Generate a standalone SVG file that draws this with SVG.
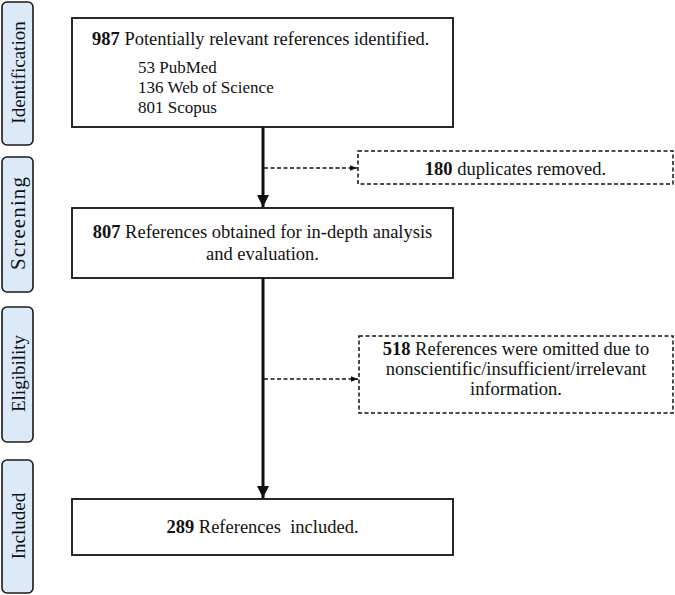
<svg xmlns="http://www.w3.org/2000/svg" width="675" height="595" viewBox="0 0 675 595">
<style>
text{font-family:"Liberation Serif","Times New Roman",serif;fill:#111}
.side rect{fill:#dce9f8;stroke:#1a1a1a;stroke-width:1.6}
.side text{font-size:19px;text-anchor:middle}
.box{fill:#fff;stroke:#111;stroke-width:1.8}
.dbox{fill:#fff;stroke:#111;stroke-width:1.5;stroke-dasharray:4 2.5}
.t{font-size:18.5px}
.s{font-size:17px}
.c{text-anchor:middle}
.b{font-weight:bold}
.main{stroke:#111;stroke-width:3;fill:none}
.dash{stroke:#111;stroke-width:1.5;stroke-dasharray:4 2.5;fill:none}
</style>
<defs>
<marker id="ah" viewBox="0 0 10 10" refX="10" refY="5" markerWidth="4" markerHeight="4" orient="auto" markerUnits="strokeWidth"><path d="M0,0 L10,5 L0,10 z" fill="#111"/></marker>
<marker id="ahs" viewBox="0 0 10 10" refX="10" refY="5" markerWidth="5" markerHeight="5" orient="auto" markerUnits="strokeWidth"><path d="M0,1 L10,5 L0,9 z" fill="#111"/></marker>
</defs>
<g id="side-identification" class="side"><rect x="2" y="2" width="31" height="143" rx="5"/><text transform="translate(25,72.5) rotate(-90)">Identification</text></g>
<g id="side-screening" class="side"><rect x="2" y="157" width="31" height="135" rx="5"/><text transform="translate(25,223.5) rotate(-90)" style="font-size:21px" textLength="93" lengthAdjust="spacing">Screening</text></g>
<g id="side-eligibility" class="side"><rect x="2" y="307" width="31" height="135" rx="5"/><text transform="translate(25,373.5) rotate(-90)">Eligibility</text></g>
<g id="side-included" class="side"><rect x="2" y="460" width="31" height="133" rx="5"/><text transform="translate(25,526) rotate(-90)">Included</text></g>
<g id="connectors">
<line class="main" x1="263" y1="127" x2="263" y2="207" marker-end="url(#ah)"/>
<line class="main" x1="263" y1="278" x2="263" y2="498" marker-end="url(#ah)"/>
<line class="dash" x1="264" y1="168" x2="357" y2="168" marker-end="url(#ahs)"/>
<line class="dash" x1="264" y1="379" x2="358" y2="379" marker-end="url(#ahs)"/>
</g>
<g id="n-identified"><rect class="box" x="72" y="18" width="381" height="109"/>
<text class="t" x="92" y="45"><tspan class="b">987</tspan> Potentially relevant references identified.</text>
<text class="s" x="138" y="73">53 PubMed</text>
<text class="s" x="138" y="93">136 Web of Science</text>
<text class="s" x="138" y="113">801 Scopus</text></g>
<g id="n-duplicates"><rect class="dbox" x="358" y="151" width="315" height="33"/>
<text class="t c" x="515.5" y="175"><tspan class="b">180</tspan> duplicates removed.</text></g>
<g id="n-screened"><rect class="box" x="72" y="208" width="381" height="70"/>
<text class="t c" x="262.5" y="238"><tspan class="b">807</tspan> References obtained for in-depth analysis</text>
<text class="t c" x="262.5" y="260">and evaluation.</text></g>
<g id="n-omitted"><rect class="dbox" x="359" y="336" width="314" height="77"/>
<text class="t c" x="516" y="355"><tspan class="b">518</tspan> References were omitted due to</text>
<text class="t c" x="516" y="375">nonscientific/insufficient/irrelevant</text>
<text class="t c" x="516" y="395">information.</text></g>
<g id="n-included"><rect class="box" x="72" y="499" width="381" height="56"/>
<text class="t c" x="262.5" y="533" xml:space="preserve"><tspan class="b">289</tspan> References  included.</text></g>
</svg>
